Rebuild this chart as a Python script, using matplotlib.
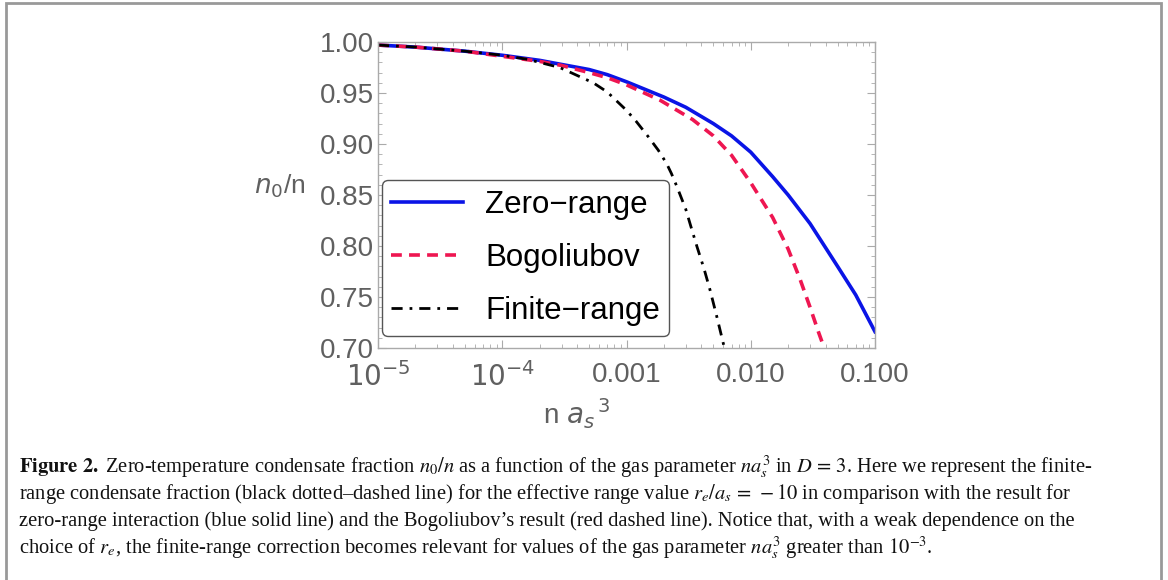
import numpy as np
import matplotlib
matplotlib.use("Agg")
from matplotlib import pyplot as plt
from matplotlib.patches import Rectangle
from matplotlib.ticker import FixedLocator, FixedFormatter, LogLocator, MultipleLocator

# values
zr_x = [1e-5, 2e-5, 5e-5, 1e-4, 2e-4, 3e-4, 5e-4, 7e-4, 1e-3, 2e-3, 3e-3, 5e-3, 7e-3, 0.01, 0.015, 0.02, 0.03, 0.05, 0.07, 0.1]
zr_y = [0.997, 0.995, 0.991, 0.987, 0.982, 0.978, 0.973, 0.968, 0.961, 0.946, 0.936, 0.920, 0.908, 0.892, 0.868, 0.850, 0.822, 0.780, 0.752, 0.716]

bg_x = [1e-5, 2e-5, 5e-5, 1e-4, 2e-4, 3e-4, 5e-4, 7e-4, 1e-3, 1.86e-3, 3.4e-3, 5e-3, 7e-3, 0.01, 0.015, 0.02, 0.025, 0.03, 0.035, 0.039]
bg_y = [0.997, 0.995, 0.991, 0.986, 0.981, 0.977, 0.970, 0.965, 0.958, 0.943, 0.924, 0.908, 0.889, 0.862, 0.828, 0.797, 0.767, 0.740, 0.716, 0.700]

fr_x = [1e-5, 2e-5, 5e-5, 1e-4, 1.6e-4, 2.9e-4, 5.4e-4, 7e-4, 1e-3, 1.2e-3, 1.5e-3, 1.8e-3, 2.1e-3,
        2.3e-3, 2.55e-3, 3e-3, 3.3e-3, 3.7e-3, 4.2e-3, 4.7e-3, 5.3e-3, 6.0e-3, 6.15e-3]
fr_y = [0.997, 0.995, 0.991, 0.987, 0.983, 0.975, 0.960, 0.951, 0.933, 0.922, 0.907, 0.894, 0.881,
        0.871, 0.858, 0.836, 0.819, 0.799, 0.778, 0.757, 0.732, 0.705, 0.700]

labels = ["Zero\u2212range", "Bogoliubov", "Finite\u2212range"]
x_ticks = [1e-5, 1e-4, 1e-3, 1e-2, 1e-1]
x_ticklabels = [r"$10^{-5}$", r"$10^{-4}$", "0.001", "0.010", "0.100"]
y_ticks = [0.70, 0.75, 0.80, 0.85, 0.90, 0.95, 1.00]

caption = [
    r"$\mathbf{Figure\ 2.}$ Zero-temperature condensate fraction $n_0/n$ as a function of the gas parameter $na_s^3$ in $D\,=\,3$. Here we represent the finite-",
    r"range condensate fraction (black dotted" + "\u2013" + r"dashed line) for the effective range value $r_e/a_s\,=\,-10$ in comparison with the result for",
    "zero-range interaction (blue solid line) and the Bogoliubov\u2019s result (red dashed line). Notice that, with a weak dependence on the",
    r"choice of $r_e$, the finite-range correction becomes relevant for values of the gas parameter $na_s^3$ greater than $10^{-3}$.",
]

W, H = 1168, 580
fig = plt.figure(figsize=(W / 100, H / 100), dpi=100)
plt.rcParams['font.family'] = ['Liberation Sans', 'DejaVu Sans']

# outer frame of the figure box
fig.patches.append(Rectangle((6 / W, -0.05), (1161 - 6) / W, 1.05 - 3 / H,
                             transform=fig.transFigure, fill=False, edgecolor='#999999', lw=2))

ax = fig.add_axes([378 / W, 1 - 348 / H, (875 - 378) / W, (348 - 42) / H])
ax.plot(zr_x, zr_y, color='#0A14E6', lw=2.6, label=labels[0])
ax.plot(bg_x, bg_y, color='#EE1651', lw=2.6, ls=(0, (3, 2)), label=labels[1])
ax.plot(fr_x, fr_y, color='black', lw=2.0, ls=(0, (4, 2.5, 1, 2.5)), label=labels[2])

ax.set_xscale('log')
ax.set_xlim(1e-5, 0.1)
ax.set_ylim(0.70, 1.00)

gray = '#606060'
ax.xaxis.set_major_locator(FixedLocator(x_ticks))
ax.xaxis.set_major_formatter(FixedFormatter(x_ticklabels))
ax.xaxis.set_minor_locator(LogLocator(base=10, subs=np.arange(2, 10)))
ax.xaxis.set_minor_formatter(FixedFormatter([]))
ax.set_yticks(y_ticks)
ax.set_yticklabels(["%.2f" % v for v in y_ticks])
ax.yaxis.set_minor_locator(MultipleLocator(0.01))
ax.tick_params(which='both', direction='in', top=True, right=True, color='#aaaaaa')
ax.tick_params(which='major', length=6, width=0.8)
ax.tick_params(which='minor', length=3, width=0.6)
ax.tick_params(axis='both', labelsize=20, labelcolor=gray)
ax.tick_params(axis='x', pad=10)
ax.tick_params(axis='y', pad=3)
for s in ax.spines.values():
    s.set_color('#aaaaaa')
    s.set_linewidth(1.0)

ax.text(-0.25, 0.53, r"$n_0$/n", transform=ax.transAxes, fontsize=19, color=gray,
        ha='left', va='center')
ax.text(0.40, -0.215, r"n $a_s$$^{\,3}$", transform=ax.transAxes, fontsize=20, color=gray,
        ha='center', va='center')

leg = ax.legend(loc='lower left', bbox_to_anchor=(0.008, 0.04), fontsize=22.5, frameon=True,
                fancybox=True, edgecolor='#555555', handlelength=2.3, handletextpad=0.7,
                labelspacing=0.75, borderpad=0.3, borderaxespad=0)
leg.get_frame().set_linewidth(1.0)
leg.get_frame().set_alpha(1)

ys = [467, 494, 521, 548]
for line, y in zip(caption, ys):
    fig.text(19 / W, 1 - y / H, line, fontsize=14.8, family='Liberation Serif',
             math_fontfamily='stix', ha='left', va='center', color='#111111')

fig.savefig("out.png", dpi=100)
